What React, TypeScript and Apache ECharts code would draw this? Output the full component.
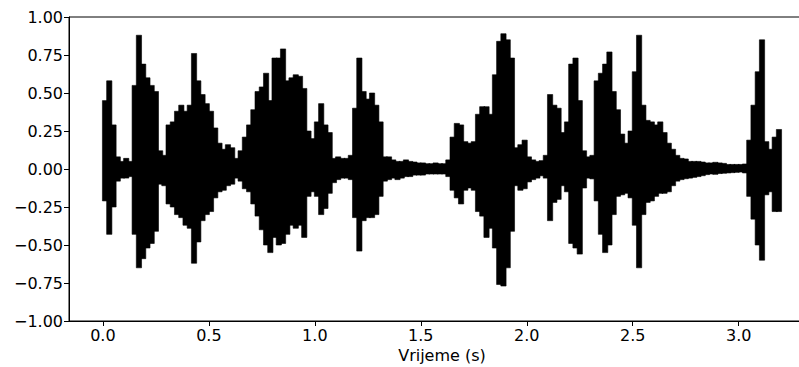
import React, { useEffect, useRef } from "react";
import * as echarts from "echarts";

// Envelope of the waveform, one bin every BIN seconds starting at 0 s
const BIN = 0.02;
const upperEnv = [
  0.45, 0.58, 0.29, 0.08, 0.05, 0.07, 0.05, 0.55, 0.88, 0.69,
  0.60, 0.55, 0.51, 0.12, 0.09, 0.29, 0.31, 0.38, 0.42, 0.38,
  0.42, 0.76, 0.58, 0.49, 0.43, 0.38, 0.27, 0.17, 0.13, 0.16,
  0.14, 0.07, 0.12, 0.21, 0.29, 0.39, 0.51, 0.54, 0.63, 0.45,
  0.73, 0.73, 0.79, 0.58, 0.60, 0.62, 0.61, 0.53, 0.25, 0.20,
  0.31, 0.43, 0.29, 0.24, 0.07, 0.08, 0.07, 0.07, 0.09, 0.40,
  0.73, 0.51, 0.46, 0.50, 0.42, 0.31, 0.08, 0.08, 0.06, 0.05,
  0.05, 0.06, 0.05, 0.046, 0.04, 0.04, 0.035, 0.035, 0.04, 0.035,
  0.035, 0.06, 0.21, 0.30, 0.29, 0.18, 0.17, 0.18, 0.36, 0.41,
  0.41, 0.36, 0.62, 0.84, 0.89, 0.85, 0.73, 0.14, 0.16, 0.19,
  0.08, 0.06, 0.05, 0.055, 0.09, 0.49, 0.42, 0.40, 0.24, 0.31,
  0.69, 0.73, 0.45, 0.12, 0.08, 0.09, 0.58, 0.63, 0.69, 0.77,
  0.51, 0.39, 0.23, 0.17, 0.25, 0.64, 0.88, 0.42, 0.32, 0.31,
  0.29, 0.31, 0.24, 0.17, 0.13, 0.09, 0.07, 0.066, 0.05, 0.05,
  0.05, 0.046, 0.04, 0.04, 0.044, 0.04, 0.037, 0.03, 0.03, 0.03,
  0.03, 0.033, 0.19, 0.42, 0.64, 0.85, 0.18, 0.13, 0.21, 0.26,
];
const lowerEnv = [
  -0.21, -0.43, -0.25, -0.08, -0.06, -0.06, -0.05, -0.43, -0.65, -0.59,
  -0.52, -0.49, -0.41, -0.10, -0.11, -0.23, -0.25, -0.30, -0.32, -0.37,
  -0.39, -0.62, -0.48, -0.34, -0.30, -0.28, -0.19, -0.15, -0.14, -0.11,
  -0.10, -0.06, -0.08, -0.13, -0.15, -0.23, -0.31, -0.40, -0.50, -0.55,
  -0.45, -0.50, -0.49, -0.43, -0.37, -0.39, -0.37, -0.45, -0.18, -0.15,
  -0.18, -0.30, -0.26, -0.16, -0.09, -0.07, -0.06, -0.06, -0.07, -0.32,
  -0.54, -0.34, -0.32, -0.32, -0.30, -0.18, -0.08, -0.07, -0.06, -0.07,
  -0.06, -0.05, -0.05, -0.04, -0.04, -0.04, -0.033, -0.033, -0.033, -0.033,
  -0.033, -0.05, -0.14, -0.19, -0.23, -0.14, -0.125, -0.14, -0.28, -0.31,
  -0.45, -0.39, -0.52, -0.76, -0.77, -0.65, -0.41, -0.11, -0.14, -0.13,
  -0.085, -0.07, -0.06, -0.045, -0.06, -0.34, -0.22, -0.20, -0.11, -0.15,
  -0.49, -0.52, -0.56, -0.125, -0.06, -0.065, -0.21, -0.43, -0.55, -0.50,
  -0.30, -0.18, -0.17, -0.16, -0.19, -0.37, -0.65, -0.30, -0.22, -0.21,
  -0.18, -0.16, -0.16, -0.15, -0.11, -0.08, -0.07, -0.064, -0.06, -0.055,
  -0.05, -0.044, -0.037, -0.033, -0.035, -0.03, -0.028, -0.026, -0.024, -0.022,
  -0.02, -0.026, -0.18, -0.33, -0.50, -0.60, -0.17, -0.15, -0.28, -0.28,
];
const xTicks = [0, 0.5, 1, 1.5, 2, 2.5, 3];
const yTicks = [-1, -0.75, -0.5, -0.25, 0, 0.25, 0.5, 0.75, 1];
const xName = "Vrijeme (s)";

const FONT = "DejaVu Sans";

export default function App() {
  const ref = useRef<HTMLDivElement>(null);
  useEffect(() => {
    if (!ref.current) return;
    const chart = echarts.init(ref.current, null, { renderer: "svg" });
    const data = upperEnv.map((u, i) => [i * BIN, lowerEnv[i], u]);
    chart.setOption({
      animation: false,
      grid: {
        left: 69,
        top: 17,
        right: -16,
        bottom: 46,
        outerBoundsMode: "none",
        containLabel: false,
        show: true,
        borderColor: "#000",
        borderWidth: 1,
      },
      xAxis: {
        type: "value",
        min: -0.16,
        max: 3.36,
        name: xName,
        nameLocation: "middle",
        nameGap: 25,
        nameTextStyle: { fontFamily: FONT, fontSize: 16, color: "#000" },
        axisLine: { show: true, onZero: false, lineStyle: { color: "#000", width: 1 } },
        axisTick: {
          show: true,
          inside: false,
          length: 5,
          customValues: xTicks,
          lineStyle: { color: "#000", width: 1 },
        },
        axisLabel: {
          customValues: xTicks,
          margin: 6,
          fontFamily: FONT,
          fontSize: 16,
          color: "#000",
          formatter: (v: number) => v.toFixed(1),
        },
        splitLine: { show: false },
      },
      yAxis: {
        type: "value",
        min: -1,
        max: 1,
        interval: 0.25,
        axisLine: { show: true, onZero: false, lineStyle: { color: "#000", width: 1 } },
        axisTick: {
          show: true,
          inside: false,
          length: 5,
          customValues: yTicks,
          lineStyle: { color: "#000", width: 1 },
        },
        axisLabel: {
          customValues: yTicks,
          margin: 6,
          fontFamily: FONT,
          fontSize: 16,
          color: "#000",
          formatter: (v: number) => (v < 0 ? "\u2212" + Math.abs(v).toFixed(2) : v.toFixed(2)),
        },
        splitLine: { show: false },
      },
      series: [
        {
          type: "custom",
          data,
          encode: { x: 0, y: [1, 2] },
          renderItem: (params: any, api: any) => {
            const t = api.value(0);
            const lo = api.value(1);
            const hi = api.value(2);
            const p1 = api.coord([t, hi]);
            const p2 = api.coord([t + BIN, lo]);
            return {
              type: "rect",
              shape: {
                x: p1[0] - 0.5,
                y: p1[1],
                width: p2[0] - p1[0] + 1,
                height: p2[1] - p1[1],
              },
              style: { fill: "#000", stroke: "#000", lineWidth: 0.6 },
            };
          },
        },
      ],
    });
    return () => chart.dispose();
  }, []);
  return <div ref={ref} style={{ width: 799, height: 367, position: "absolute", left: 0, top: 0 }} />;
}
